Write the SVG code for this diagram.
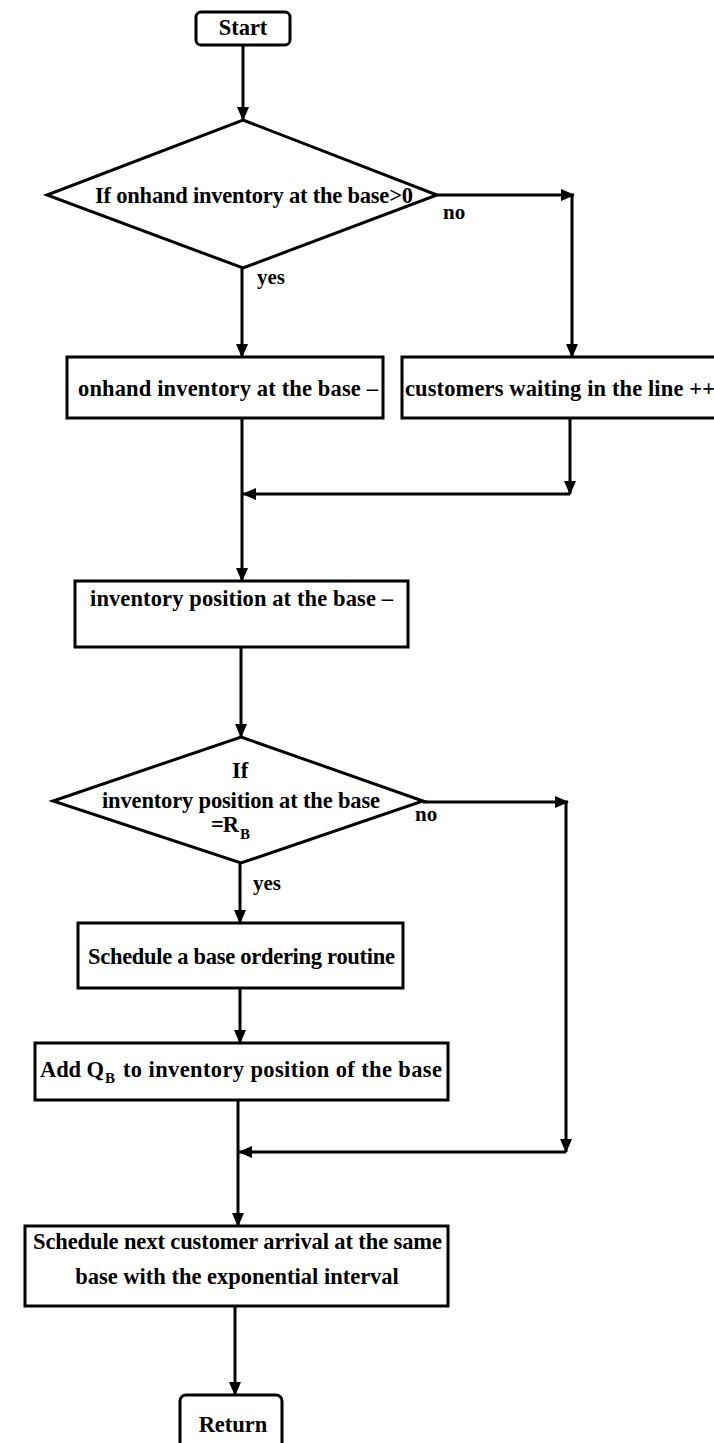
<svg xmlns="http://www.w3.org/2000/svg" width="714" height="1443" viewBox="0 0 714 1443">
  <style>
    .box { fill: #fff; stroke: #000; stroke-width: 3; }
    .edge { fill: none; stroke: #000; stroke-width: 3; }
    text { font-family: "Liberation Serif", "Times New Roman", serif; font-weight: bold; font-size: 22.5px; fill: #000; }
    .sub { font-size: 15px; }
    .lbl { font-size: 21px; }
  </style>
  <defs>
    <marker id="arrow" markerUnits="userSpaceOnUse" markerWidth="14" markerHeight="12" refX="13" refY="6" orient="auto">
      <path d="M0,0 L14,6 L0,12 z" fill="#000"/>
    </marker>
  </defs>
  <rect width="714" height="1443" fill="#fff"/>

  <!-- connectors and branch labels -->
  <g id="connectors">
    <path class="edge" d="M243,45 V120" marker-end="url(#arrow)"/>
    <path class="edge" d="M437,195 H574" marker-end="url(#arrow)"/>
    <path class="edge" d="M572,195 V357" marker-end="url(#arrow)"/>
    <path class="edge" d="M242,268 V357" marker-end="url(#arrow)"/>
    <path class="edge" d="M570,418 V494" marker-end="url(#arrow)"/>
    <path class="edge" d="M570,494 H243" marker-end="url(#arrow)"/>
    <path class="edge" d="M242,418 V581" marker-end="url(#arrow)"/>
    <path class="edge" d="M241,647 V737" marker-end="url(#arrow)"/>
    <path class="edge" d="M423,802 H568" marker-end="url(#arrow)"/>
    <path class="edge" d="M566,802 V1152" marker-end="url(#arrow)"/>
    <path class="edge" d="M566,1152 H239" marker-end="url(#arrow)"/>
    <path class="edge" d="M240,863 V923" marker-end="url(#arrow)"/>
    <path class="edge" d="M240,988 V1043" marker-end="url(#arrow)"/>
    <path class="edge" d="M238,1100 V1226" marker-end="url(#arrow)"/>
    <path class="edge" d="M235,1306 V1395" marker-end="url(#arrow)"/>
    <text class="lbl" x="443" y="219">no</text>
    <text class="lbl" x="257" y="284">yes</text>
    <text class="lbl" x="415" y="821">no</text>
    <text class="lbl" x="253" y="890">yes</text>
  </g>

  <g id="start">
    <rect class="box" x="196" y="12" width="94" height="33" rx="5"/>
    <text x="243" y="35" text-anchor="middle" font-size="21">Start</text>
  </g>

  <g id="check-onhand">
    <polygon class="box" points="243,120 437,195 243,268 47,195"/>
    <text x="95" y="203" textLength="318">If onhand inventory at the base&gt;0</text>
  </g>

  <g id="onhand-decrement">
    <rect class="box" x="67" y="357" width="316" height="61"/>
    <text x="78" y="396" textLength="300">onhand inventory at the base –</text>
  </g>

  <g id="waiting-increment">
    <rect class="box" x="402" y="357" width="330" height="61"/>
    <text x="405" y="396" textLength="310">customers waiting in the line ++</text>
  </g>

  <g id="position-decrement">
    <rect class="box" x="75" y="581" width="333" height="66"/>
    <text x="90" y="606" textLength="303">inventory position at the base –</text>
  </g>

  <g id="check-reorder">
    <polygon class="box" points="241,737 423,801 241,863 53,801"/>
    <text x="240" y="778" text-anchor="middle">If</text>
    <text x="102" y="808" textLength="278">inventory position at the base</text>
    <text x="211" y="832" textLength="28">=R</text>
    <text class="sub" x="240" y="839">B</text>
  </g>

  <g id="schedule-order">
    <rect class="box" x="78" y="923" width="325" height="65"/>
    <text x="88" y="964" textLength="307">Schedule a base ordering routine</text>
  </g>

  <g id="add-order-qty">
    <rect class="box" x="35" y="1043" width="413" height="57"/>
    <text x="40" y="1077" textLength="64">Add Q</text>
    <text class="sub" x="105" y="1083">B</text>
    <text x="123" y="1077" textLength="319">to inventory position of the base</text>
  </g>

  <g id="schedule-arrival">
    <rect class="box" x="25" y="1226" width="423" height="80"/>
    <text x="33" y="1249" textLength="409">Schedule next customer arrival at the same</text>
    <text x="237" y="1284" text-anchor="middle">base with the exponential interval</text>
  </g>

  <g id="return">
    <rect class="box" x="180" y="1395" width="102" height="70" rx="6"/>
    <text x="233" y="1432" text-anchor="middle" font-size="21">Return</text>
  </g>
</svg>
